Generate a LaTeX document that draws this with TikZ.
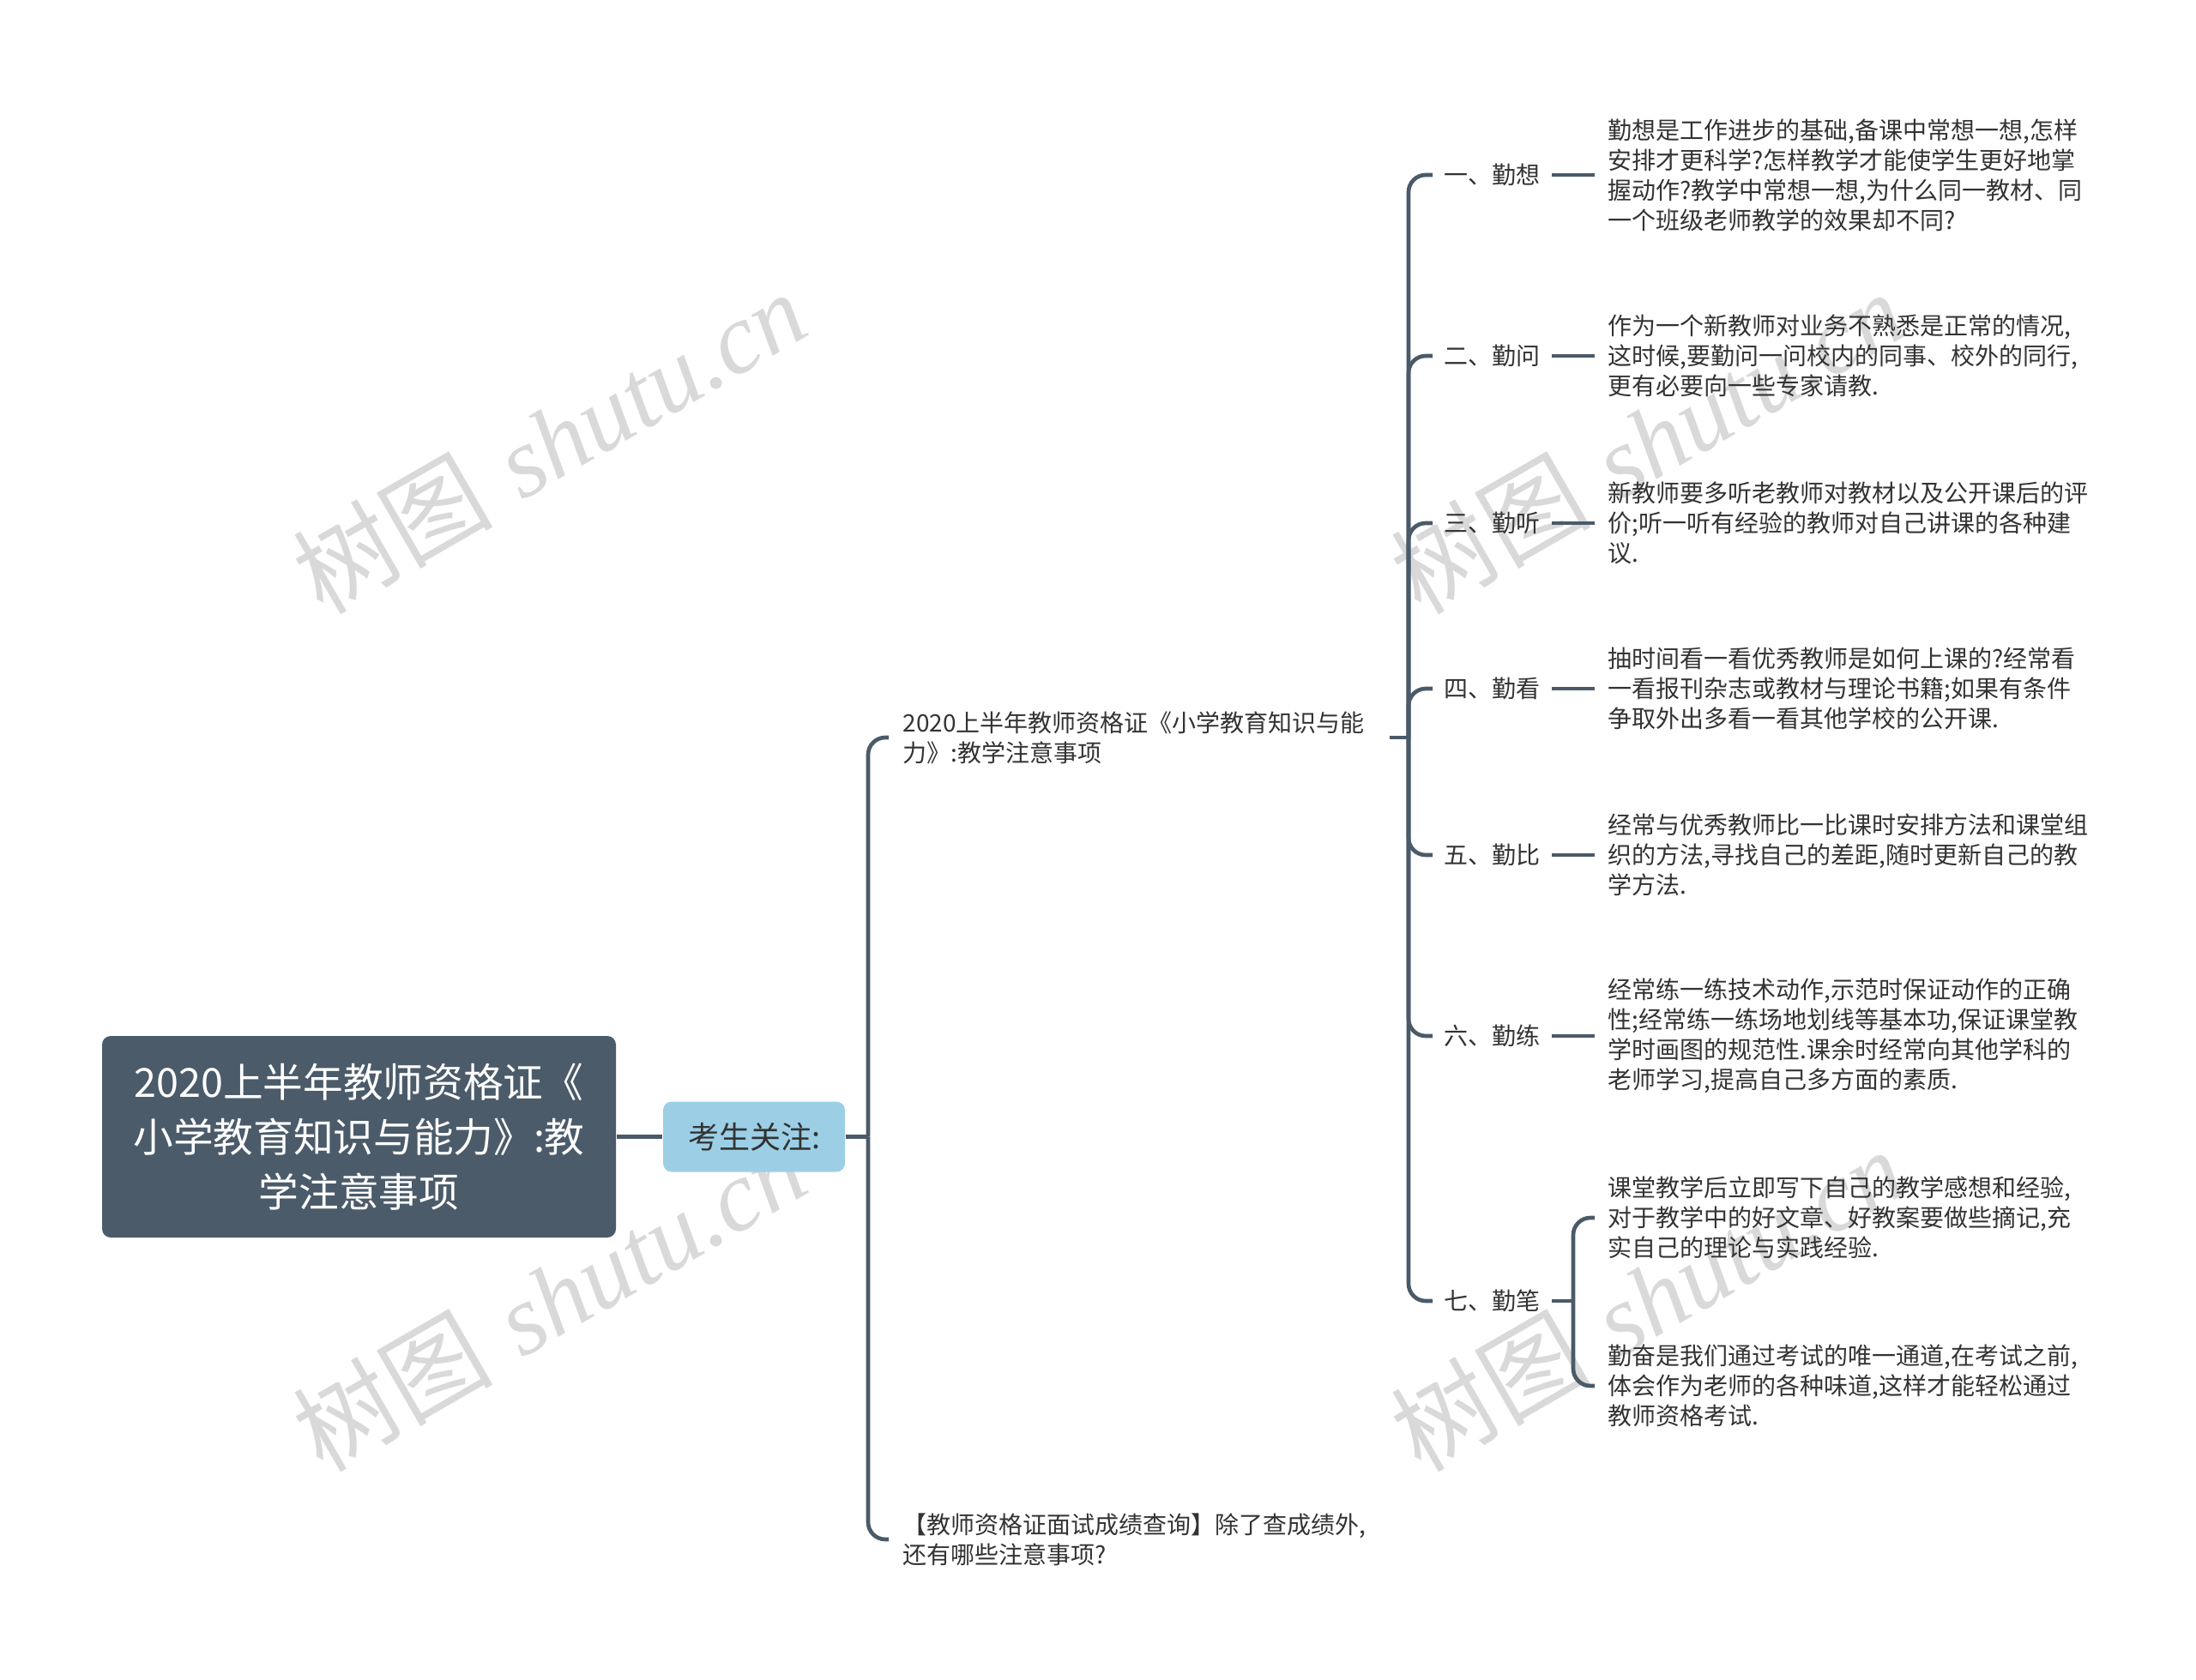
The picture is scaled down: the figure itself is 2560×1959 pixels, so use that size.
\documentclass[tikz,border=0pt]{standalone}
\usepackage{fontspec}
\newfontfamily\cjk{Noto Sans CJK SC}
\newfontfamily\wmserif{Liberation Serif}
\definecolor{linecol}{HTML}{4B5A69}
\definecolor{rootfill}{HTML}{4B5B6A}
\definecolor{bluefill}{HTML}{9CCFE6}
\definecolor{txt}{HTML}{333333}
\definecolor{wmcol}{HTML}{D9D9D9}
\begin{document}
\begin{tikzpicture}[x=0.3pt,y=-0.3pt,
  conn/.style={draw=linecol, line width=1.4pt},
  hook/.style={conn, rounded corners=6pt},
  rootbox/.style={fill=rootfill, rounded corners=3pt, minimum width=179.7pt, minimum height=70.5pt,
    align=center, text=white, font=\cjk\fontsize{14}{19.2}\selectfont, inner sep=0pt},
  focus/.style={fill=bluefill, rounded corners=3pt, minimum width=63.6pt, minimum height=24.6pt,
    text=txt, font=\cjk\fontsize{10.8}{13}\selectfont, inner sep=0pt},
  sub/.style={anchor=west, align=left, text=txt, font=\cjk\fontsize{8.4}{10.5}\selectfont,
    inner xsep=4.8pt, inner ysep=2pt},
  lbl/.style={anchor=west, text=txt, font=\cjk\fontsize{8.4}{10.5}\selectfont,
    inner xsep=3.9pt, inner ysep=2pt},
  body/.style={anchor=west, align=left, text=txt, font=\cjk\fontsize{8.4}{10.5}\selectfont,
    inner xsep=4.5pt, inner ysep=2pt},
  wm/.style={text=wmcol, rotate=30, font=\fontsize{35}{40}\selectfont, inner sep=0pt}
]
\useasboundingbox (0,0) rectangle (2560,1959);

% watermarks
\node[wm] (wm1) at (640,515) {{\cjk 树图} {\wmserif\itshape shutu.cn}};
\node[wm] (wm2) at (640,1515) {{\cjk 树图} {\wmserif\itshape shutu.cn}};
\node[wm] (wm3) at (1920,515) {{\cjk 树图} {\wmserif\itshape shutu.cn}};
\node[wm] (wm4) at (1920,1515) {{\cjk 树图} {\wmserif\itshape shutu.cn}};

% root and focus
\node[rootbox] (root) at (418.5,1325.5) {2020上半年教师资格证《\\小学教育知识与能力》:教\\学注意事项};
\node[focus] (focus) at (879,1325.5) {考生关注:};

% level 2
\node[sub, text width=165.3pt] (topic) at (1036,860) {2020上半年教师资格证《小学教育知识与能\\力》:教学注意事项};
\node[sub, text width=165.3pt] (query) at (1036,1795) {【教师资格证面试成绩查询】除了查成绩外,\\还有哪些注意事项?};

% level 3 labels
\node[lbl] (l1) at (1670,204) {一、勤想};
\node[lbl] (l2) at (1670,415) {二、勤问};
\node[lbl] (l3) at (1670,610) {三、勤听};
\node[lbl] (l4) at (1670,803) {四、勤看};
\node[lbl] (l5) at (1670,997) {五、勤比};
\node[lbl] (l6) at (1670,1208) {六、勤练};
\node[lbl] (l7) at (1670,1517) {七、勤笔};

% content
\node[body] (c1) at (1859,204) {勤想是工作进步的基础,备课中常想一想,怎样\\安排才更科学?怎样教学才能使学生更好地掌\\握动作?教学中常想一想,为什么同一教材、同\\一个班级老师教学的效果却不同?};
\node[body] (c2) at (1859,415) {作为一个新教师对业务不熟悉是正常的情况,\\这时候,要勤问一问校内的同事、校外的同行,\\更有必要向一些专家请教.};
\node[body] (c3) at (1859,610) {新教师要多听老教师对教材以及公开课后的评\\价;听一听有经验的教师对自己讲课的各种建\\议.};
\node[body] (c4) at (1859,803) {抽时间看一看优秀教师是如何上课的?经常看\\一看报刊杂志或教材与理论书籍;如果有条件\\争取外出多看一看其他学校的公开课.};
\node[body] (c5) at (1859,997) {经常与优秀教师比一比课时安排方法和课堂组\\织的方法,寻找自己的差距,随时更新自己的教\\学方法.};
\node[body] (c6) at (1859,1208) {经常练一练技术动作,示范时保证动作的正确\\性;经常练一练场地划线等基本功,保证课堂教\\学时画图的规范性.课余时经常向其他学科的\\老师学习,提高自己多方面的素质.};
\node[body] (c7a) at (1859,1420) {课堂教学后立即写下自己的教学感想和经验,\\对于教学中的好文章、好教案要做些摘记,充\\实自己的理论与实践经验.};
\node[body] (c7b) at (1859,1616) {勤奋是我们通过考试的唯一通道,在考试之前,\\体会作为老师的各种味道,这样才能轻松通过\\教师资格考试.};

% junctions
\coordinate (j1) at (1012,1325.5);
\coordinate (j2) at (1642,860);
\coordinate (j3) at (1834,1517);

% connectors
\draw[conn] (root.east) -- (focus.west);
\draw[conn] (focus.east) -- (j1);
\draw[hook] (j1) |- (topic.west);
\draw[hook] (j1) |- (query.west);
\draw[conn] (topic.east) -- (j2);
\foreach \k in {l1,l2,l3,l4,l5,l6,l7} { \draw[hook] (j2) |- (\k.west); }
\draw[conn] (l1.east) -- (c1.west);
\draw[conn] (l2.east) -- (c2.west);
\draw[conn] (l3.east) -- (c3.west);
\draw[conn] (l4.east) -- (c4.west);
\draw[conn] (l5.east) -- (c5.west);
\draw[conn] (l6.east) -- (c6.west);
\draw[conn] (l7.east) -- (j3);
\draw[hook] (j3) |- (c7a.west);
\draw[hook] (j3) |- (c7b.west);
\end{tikzpicture}
\end{document}
